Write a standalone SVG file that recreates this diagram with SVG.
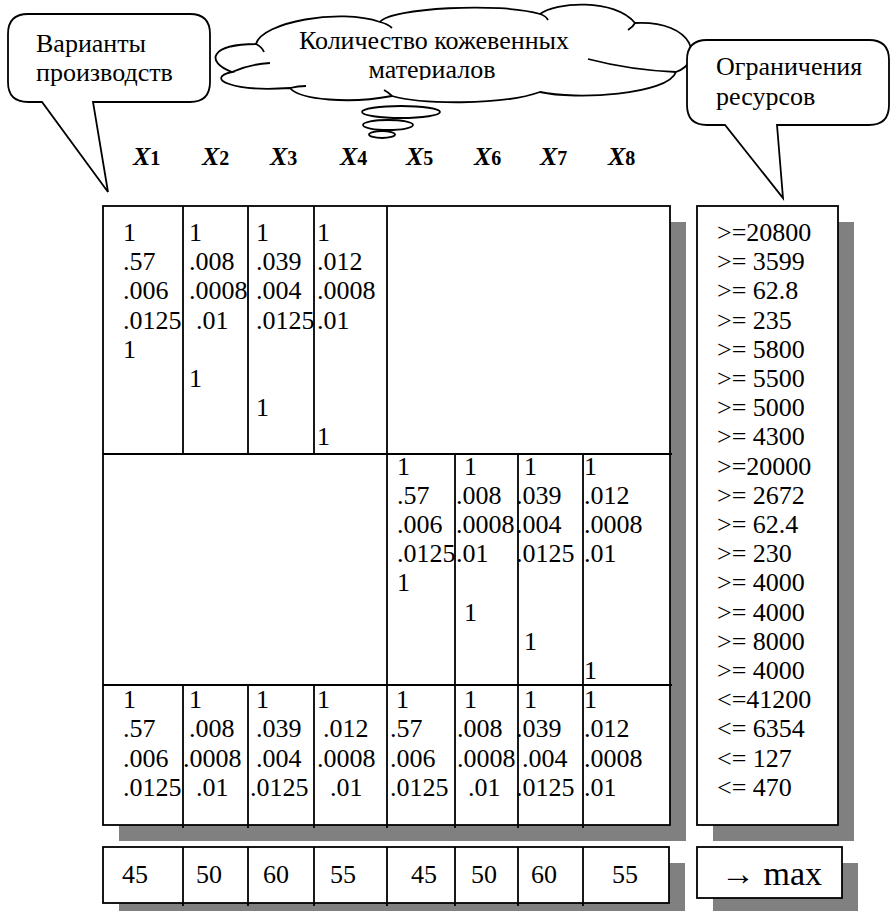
<svg xmlns="http://www.w3.org/2000/svg" width="896" height="911" viewBox="0 0 896 911">
  <style>
    text { font-family: "Liberation Serif", "Times New Roman", "DejaVu Serif", serif; font-size: 26px; fill: #000; }
    .ln { stroke: #000; stroke-width: 1.8; fill: none; }
    .box { stroke: #000; stroke-width: 1.8; fill: #fff; }
    .shadow { fill: #808080; }
    .xv { font-weight: bold; font-style: italic; font-size: 26px; }
    .xi { font-weight: bold; font-style: normal; font-size: 20px; }
    .cloudtxt { font-size: 26px; }
    .big { font-size: 34px; }
  </style>
  <defs>
    <clipPath id="cloudTextClip">
      <rect x="200" y="55" width="500" height="25"/>
    </clipPath>
  </defs>

  <rect width="896" height="911" fill="#fff"/>

  <!-- callout: production variants -->
  <g id="callout-variants">
    <path class="box" d="M28,14 H190 Q210,14 210,34 V82 Q210,102 190,102 H93 L108,192 L42,102 H28 Q8,102 8,82 V34 Q8,14 28,14 Z"/>
    <text x="36" y="52">Варианты</text>
    <text x="36" y="81">производств</text>
  </g>

  <!-- cloud callout: amount of leather materials -->
  <g id="cloud-materials">
    <path class="box" d="M256,44 C262,22 340,8 380,22 C390,8 500,2 540,14 C555,2 615,-2 635,23 C695,20 705,62 676,72 C668,95 575,100 540,92 C500,106 420,104 392,96 C350,104 300,100 290,88 C230,92 205,78 232,72 C205,62 210,44 256,44 Z"/>
    <path class="ln" d="M256,44 Q262,47 264,52 M380,22 Q388,24 392,28 M540,14 Q546,16 548,20 M635,23 Q633,27 628,30 M676,72 Q630,70 588,59 M232,72 Q250,64 270,63 M290,88 Q298,86 306,86 M392,96 Q388,92 384,90"/>
    <ellipse class="box" cx="401" cy="112" rx="39" ry="6"/>
    <ellipse class="box" cx="388" cy="125" rx="25" ry="5"/>
    <ellipse class="box" cx="382" cy="134.5" rx="13" ry="3.5"/>
    <text class="cloudtxt" x="434" y="48.5" text-anchor="middle">Количество кожевенных</text>
    <text class="cloudtxt" x="432" y="78" text-anchor="middle" clip-path="url(#cloudTextClip)">материалов</text>
  </g>

  <!-- callout: resource limits -->
  <g id="callout-limits">
    <path class="box" d="M707,40 H869 Q889,40 889,60 V105 Q889,125 869,125 H777 L783,198 L725,125 H707 Q687,125 687,105 V60 Q687,40 707,40 Z"/>
    <text x="716" y="75">Ограничения</text>
    <text x="716" y="105">ресурсов</text>
  </g>

  <!-- variable headers -->
  <g id="headers">
    <text x="133" y="165"><tspan class="xv">X</tspan><tspan class="xi">1</tspan></text>
    <text x="202" y="165"><tspan class="xv">X</tspan><tspan class="xi">2</tspan></text>
    <text x="270" y="165"><tspan class="xv">X</tspan><tspan class="xi">3</tspan></text>
    <text x="340" y="165"><tspan class="xv">X</tspan><tspan class="xi">4</tspan></text>
    <text x="406" y="165"><tspan class="xv">X</tspan><tspan class="xi">5</tspan></text>
    <text x="474" y="165"><tspan class="xv">X</tspan><tspan class="xi">6</tspan></text>
    <text x="540" y="165"><tspan class="xv">X</tspan><tspan class="xi">7</tspan></text>
    <text x="608" y="165"><tspan class="xv">X</tspan><tspan class="xi">8</tspan></text>
  </g>

  <!-- coefficient matrix -->
  <g id="matrix">
    <rect class="shadow" x="119" y="222" width="567" height="619"/>
    <rect class="box" x="103" y="206" width="567" height="619"/>
    <path class="ln" d="M103,454 H672 M103,685 H672 M387,206 V828 M183,206 V454 M248,206 V454 M314,206 V454 M455,454 V828 M518,454 V828 M583,454 V828 M183,685 V828 M248,685 V828 M314,685 V828"/>

    <!-- upper block: X1..X4 -->
    <text x="123" y="241">1</text>
    <text x="123" y="270.2">.57</text>
    <text x="123" y="299.4">.006</text>
    <text x="123" y="328.6">.0125</text>
    <text x="123" y="357.8">1</text>

    <text x="189" y="241">1</text>
    <text x="189" y="270.2">.008</text>
    <text x="189" y="299.4">.0008</text>
    <text x="196" y="328.6">.01</text>
    <text x="189" y="387">1</text>

    <text x="256" y="241">1</text>
    <text x="256" y="270.2">.039</text>
    <text x="256" y="299.4">.004</text>
    <text x="256" y="328.6">.0125</text>
    <text x="256" y="416.2">1</text>

    <text x="317" y="241">1</text>
    <text x="317" y="270.2">.012</text>
    <text x="317" y="299.4">.0008</text>
    <text x="317" y="328.6">.01</text>
    <text x="317" y="445.4">1</text>

    <!-- middle block: X5..X8 -->
    <text x="397" y="474.6">1</text>
    <text x="397" y="503.8">.57</text>
    <text x="397" y="533">.006</text>
    <text x="397" y="562.2">.0125</text>
    <text x="397" y="591.4">1</text>

    <text x="464" y="474.6">1</text>
    <text x="456" y="503.8">.008</text>
    <text x="456" y="533">.0008</text>
    <text x="456" y="562.2">.01</text>
    <text x="464" y="620.6">1</text>

    <text x="524" y="474.6">1</text>
    <text x="516" y="503.8">.039</text>
    <text x="516" y="533">.004</text>
    <text x="516" y="562.2">.0125</text>
    <text x="524" y="649.8">1</text>

    <text x="584" y="474.6">1</text>
    <text x="584" y="503.8">.012</text>
    <text x="584" y="533">.0008</text>
    <text x="584" y="562.2">.01</text>
    <text x="584" y="679">1</text>

    <!-- lower block: all variables -->
    <text x="123" y="708.2">1</text>
    <text x="123" y="737.4">.57</text>
    <text x="123" y="766.6">.006</text>
    <text x="123" y="795.8">.0125</text>

    <text x="189" y="708.2">1</text>
    <text x="189" y="737.4">.008</text>
    <text x="183" y="766.6">.0008</text>
    <text x="196" y="795.8">.01</text>

    <text x="256" y="708.2">1</text>
    <text x="256" y="737.4">.039</text>
    <text x="256" y="766.6">.004</text>
    <text x="250" y="795.8">.0125</text>

    <text x="317" y="708.2">1</text>
    <text x="323" y="737.4">.012</text>
    <text x="317" y="766.6">.0008</text>
    <text x="330" y="795.8">.01</text>

    <text x="396" y="708.2">1</text>
    <text x="390" y="737.4">.57</text>
    <text x="390" y="766.6">.006</text>
    <text x="390" y="795.8">.0125</text>

    <text x="464" y="708.2">1</text>
    <text x="457" y="737.4">.008</text>
    <text x="457" y="766.6">.0008</text>
    <text x="468" y="795.8">.01</text>

    <text x="524" y="708.2">1</text>
    <text x="516" y="737.4">.039</text>
    <text x="522" y="766.6">.004</text>
    <text x="516" y="795.8">.0125</text>

    <text x="584" y="708.2">1</text>
    <text x="584" y="737.4">.012</text>
    <text x="584" y="766.6">.0008</text>
    <text x="584" y="795.8">.01</text>
  </g>

  <!-- right-hand sides -->
  <g id="constraints">
    <rect class="shadow" x="713" y="222" width="141" height="619"/>
    <rect class="box" x="697" y="206" width="141" height="619"/>
    <text x="717" y="241">&gt;=20800</text>
    <text x="717" y="270.2">&gt;= 3599</text>
    <text x="717" y="299.4">&gt;= 62.8</text>
    <text x="717" y="328.6">&gt;= 235</text>
    <text x="717" y="357.8">&gt;= 5800</text>
    <text x="717" y="387">&gt;= 5500</text>
    <text x="717" y="416.2">&gt;= 5000</text>
    <text x="717" y="445.4">&gt;= 4300</text>
    <text x="717" y="474.6">&gt;=20000</text>
    <text x="717" y="503.8">&gt;= 2672</text>
    <text x="717" y="533">&gt;= 62.4</text>
    <text x="717" y="562.2">&gt;= 230</text>
    <text x="717" y="591.4">&gt;= 4000</text>
    <text x="717" y="620.6">&gt;= 4000</text>
    <text x="717" y="649.8">&gt;= 8000</text>
    <text x="717" y="679">&gt;= 4000</text>
    <text x="717" y="708.2">&lt;=41200</text>
    <text x="717" y="737.4">&lt;= 6354</text>
    <text x="717" y="766.6">&lt;= 127</text>
    <text x="717" y="795.8">&lt;= 470</text>
  </g>

  <!-- objective coefficients -->
  <g id="costs">
    <rect class="shadow" x="119" y="863" width="566" height="56"/>
    <rect class="box" x="103" y="847" width="566" height="56"/>
    <path class="ln" d="M183,847 V906 M248,847 V906 M314,847 V906 M387,847 V906 M455,847 V906 M518,847 V906 M583,847 V906"/>
    <text x="122" y="883">45</text>
    <text x="196" y="883">50</text>
    <text x="263" y="883">60</text>
    <text x="330" y="883">55</text>
    <text x="411" y="883">45</text>
    <text x="471" y="883">50</text>
    <text x="531" y="883">60</text>
    <text x="612" y="883">55</text>
  </g>

  <!-- objective direction -->
  <g id="objective">
    <rect class="shadow" x="713" y="863" width="145" height="51"/>
    <rect class="box" x="697" y="847" width="145" height="51"/>
    <text class="big" x="721" y="885">→ max</text>
  </g>
</svg>
